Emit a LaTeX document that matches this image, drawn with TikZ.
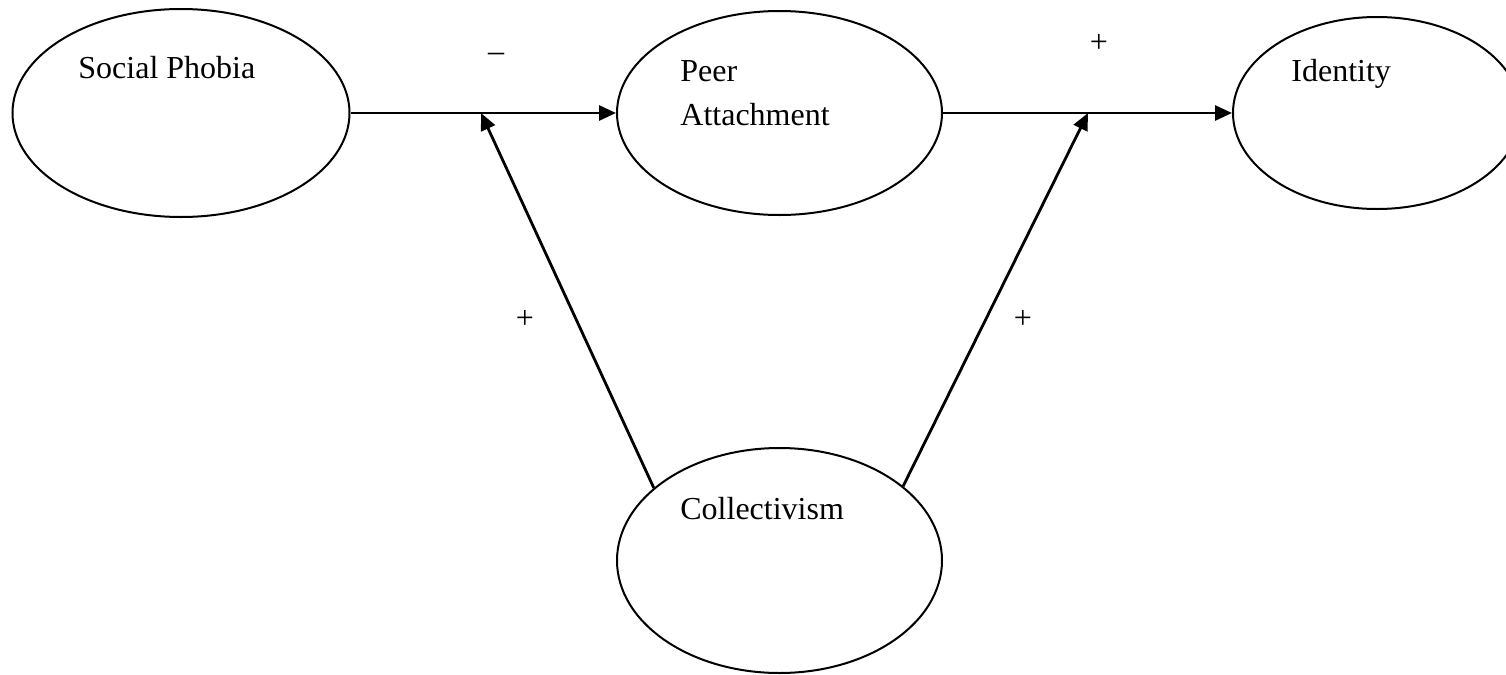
\documentclass[tikz,border=0pt]{standalone}
\usepackage{fontspec}
\setmainfont{Liberation Serif}
\usetikzlibrary{shapes.geometric,arrows.meta}

\begin{document}
\begin{tikzpicture}[x=0.5pt,y=-0.5pt,
        var/.style={draw,ellipse,line width=1pt,inner sep=0pt},
        lbl/.style={anchor=base west,inner sep=0pt,font=\fontsize{16}{22}\selectfont},
        sgn/.style={anchor=base,inner sep=0pt,font=\fontsize{16}{22}\selectfont},
        link/.style={line width=1.4pt,-{Triangle[length=8.5pt,width=7.5pt]}}]
            \useasboundingbox (0,0) rectangle (1506,675);
            \node [var,minimum width=168.5pt,minimum height=104pt] (sp) at (181,113) {};
            \node [var,minimum width=162.5pt,minimum height=102pt] (pa) at (779.5,113) {};
            \node [var,minimum width=144pt,minimum height=96pt] (id) at (1377,113) {};
            \node [var,minimum width=162.5pt,minimum height=112.5pt] (co) at (779.5,560.5) {};
            \node [lbl] (tsp) at (78,78) {Social Phobia};
            \node [lbl] (tpa) at (680,81) {Peer};
            \node [lbl] (tpb) at (680,125) {Attachment};
            \node [lbl] (tid) at (1291,81) {Identity};
            \node [lbl] (tco) at (680,519) {Collectivism};
            \coordinate (m1) at (481,113);
            \coordinate (m2) at (1088,113);
            \draw [link] (sp) -- (pa);
            \draw [link] (pa) -- (id);
            \draw [link] (co.150) -- (m1);
            \draw [link] (co.31) -- (m2);
            % signes des effets
            \node [sgn] (s1) at (496,61) {--};
            \node [sgn] (s2) at (1099,52) {+};
            \node [sgn] (s3) at (525,328) {+};
            \node [sgn] (s4) at (1023,328) {+};
        \end{tikzpicture}
\end{document}
